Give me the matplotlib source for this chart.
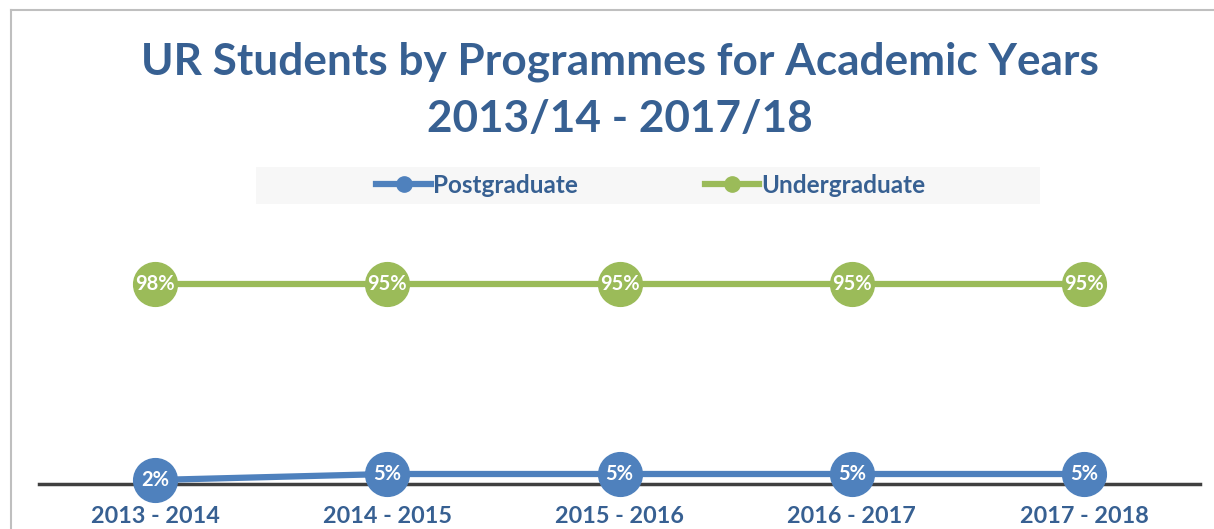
import numpy as np
import matplotlib.pyplot as plt
from matplotlib.lines import Line2D
from matplotlib.patches import Rectangle


# Data
years = ["2013 - 2014", "2014 - 2015", "2015 - 2016", "2016 - 2017", "2017 - 2018"]
postgraduate = [2, 5, 5, 5, 5]
undergraduate = [98, 95, 95, 95, 95]

# stacked line chart (as in the original): undergraduate sits on top of postgraduate
undergraduate_stacked = np.add(postgraduate, undergraduate)

blue = "#4F81BD"
green = "#9BBB59"
navy = "#376092"

plt.rcParams["font.family"] = ["Lato", "DejaVu Sans"]

W, H = 1214, 529
fig = plt.figure(figsize=(W / 100, H / 100), dpi=100)

# outer chart frame (top and left edge visible)
fig.add_artist(Line2D([11 / W, 1.0], [1 - 9.5 / H, 1 - 9.5 / H],
                      color="#BFBFBF", lw=1.5, transform=fig.transFigure))
fig.add_artist(Line2D([11 / W, 11 / W], [0, 1 - 9.5 / H],
                      color="#BFBFBF", lw=1.5, transform=fig.transFigure))

ax = fig.add_axes([39 / W, 1 - 484 / H, 1161 / W, 260 / H])

x = np.arange(len(years))

ax.plot(x, undergraduate_stacked, color=green, lw=4.5, marker="o",
        markersize=31.5, solid_capstyle="butt", zorder=3, clip_on=False)
ax.plot(x, postgraduate, color=blue, lw=4.5, marker="o",
        markersize=31.5, solid_capstyle="butt", zorder=4, clip_on=False)

# data labels
for xi, v, yv in zip(x, undergraduate, undergraduate_stacked):
    ax.text(xi, yv, f"{v}%", color="white", fontsize=14.5, fontweight="bold",
            ha="center", va="center", zorder=5)
for xi, v in zip(x, postgraduate):
    ax.text(xi, v, f"{v}%", color="white", fontsize=14.5, fontweight="bold",
            ha="center", va="center", zorder=5)

ax.set_xlim(-0.5, len(years) - 0.5)
ax.set_ylim(0, 130)
ax.set_yticks([])
ax.set_xticks(x)
ax.set_xticklabels(years, fontsize=16.8, fontweight="bold", color=navy)
ax.tick_params(axis="x", length=0, pad=16)

for side in ["top", "right", "left"]:
    ax.spines[side].set_visible(False)
ax.spines["bottom"].set_color("#404040")
ax.spines["bottom"].set_linewidth(2.5)
ax.spines["bottom"].set_zorder(2)
ax.patch.set_alpha(0)

# title
fig.text(620 / W, 1 - 62 / H, "UR Students by Programmes for Academic Years",
         ha="center", va="center", fontsize=31.8, fontweight="bold", color=navy)
fig.text(620 / W, 1 - 119 / H, "2013/14 - 2017/18",
         ha="center", va="center", fontsize=31.8, fontweight="bold", color=navy)

# legend background
fig.add_artist(Rectangle((256 / W, 1 - 204 / H), 784 / W, 37 / H,
                         facecolor="#F7F7F7", edgecolor="none",
                         transform=fig.transFigure, zorder=0))

handles = [
    Line2D([], [], color=blue, lw=4.5, marker="o", markersize=11),
    Line2D([], [], color=green, lw=4.5, marker="o", markersize=11),
]
leg = fig.legend(handles, ["Postgraduate", "Undergraduate"],
                 loc="center", bbox_to_anchor=(651 / W, 1 - 185.5 / H),
                 ncol=2, frameon=False, handlelength=2.25,
                 handletextpad=0.1, columnspacing=5.2,
                 prop={"size": 17.5, "weight": "bold"})
for t in leg.get_texts():
    t.set_color(navy)

plt.savefig("out.png", dpi=100)
